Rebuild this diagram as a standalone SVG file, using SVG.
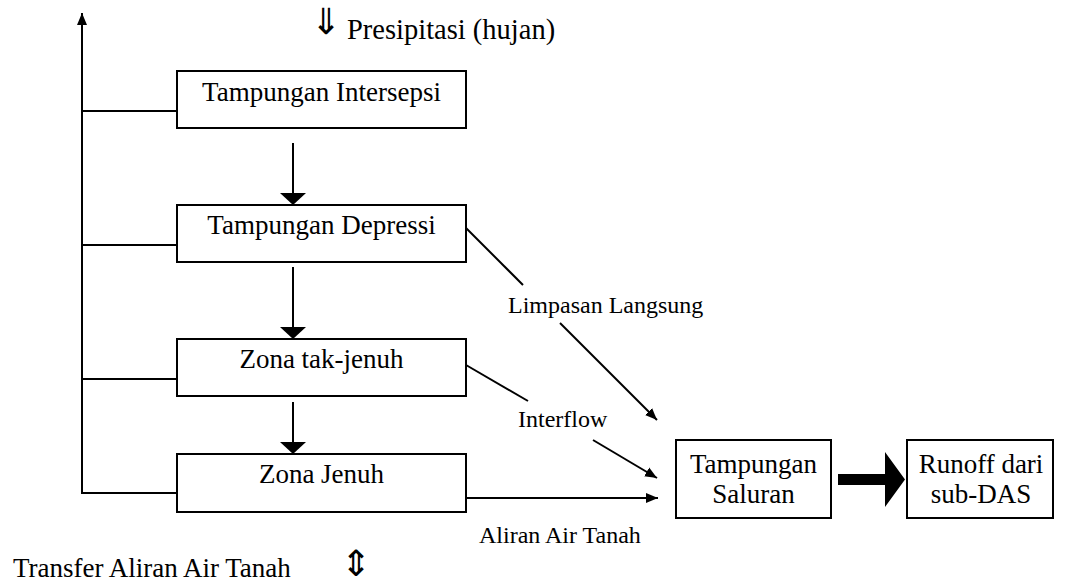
<svg xmlns="http://www.w3.org/2000/svg" width="1070" height="585" viewBox="0 0 1070 585">
<style>
.box{fill:#fff;stroke:#000;stroke-width:2}
.ln{fill:none;stroke:#000;stroke-width:2}
.t{font-family:"Liberation Serif","Times New Roman",serif;font-size:27px;fill:#000}
.lb{font-family:"Liberation Serif","Times New Roman",serif;font-size:24px;fill:#000}
.sym{font-family:"DejaVu Sans","DejaVu Serif",sans-serif;fill:#000}
</style>
<defs>
<marker id="ah" markerWidth="12" markerHeight="12" viewBox="0 0 12 12" refX="12" refY="6" orient="auto" markerUnits="userSpaceOnUse">
<path d="M0,1 L12,6 L0,11 Z" fill="#000"/>
</marker>
<marker id="ahv" markerWidth="12" markerHeight="26" viewBox="0 0 12 26" refX="12" refY="13" orient="auto" markerUnits="userSpaceOnUse">
<path d="M0,0 L12,13 L0,26 Z" fill="#000"/>
</marker>
</defs>
<g id="connectors">
<path class="ln" d="M177,111 H82 M177,245 H82 M177,379 H82 M177,493 H82"/>
<line class="ln" x1="82" y1="494" x2="82" y2="13" marker-end="url(#ah)"/>
<line class="ln" x1="293" y1="143" x2="293" y2="205" marker-end="url(#ahv)"/>
<line class="ln" x1="293" y1="267" x2="293" y2="339" marker-end="url(#ahv)"/>
<line class="ln" x1="293" y1="402" x2="293" y2="454" marker-end="url(#ahv)"/>
<line class="ln" x1="466" y1="228" x2="523" y2="285"/>
<line class="ln" x1="560" y1="323" x2="657" y2="420" marker-end="url(#ah)"/>
<line class="ln" x1="466" y1="365" x2="528" y2="401"/>
<line class="ln" x1="593" y1="440" x2="657" y2="478" marker-end="url(#ah)"/>
<line class="ln" x1="466" y1="498" x2="658" y2="498" marker-end="url(#ah)"/>
<polygon points="838,474 885,474 885,452 905,479.5 885,507 885,485 838,485" fill="#000"/>
</g>
<g id="n-presipitasi">
<text class="sym" x="311" y="34" style="font-size:36px">⇓</text>
<text class="t" x="347" y="39" style="font-size:28.5px">Presipitasi (hujan)</text>
</g>
<g id="n-intersepsi">
<rect class="box" x="177" y="71" width="289" height="57"/>
<text class="t" x="321.5" y="101" text-anchor="middle">Tampungan Intersepsi</text>
</g>
<g id="n-depressi">
<rect class="box" x="177" y="205" width="289" height="57"/>
<text class="t" x="321.5" y="234" text-anchor="middle">Tampungan Depressi</text>
</g>
<g id="n-takjenuh">
<rect class="box" x="177" y="339" width="289" height="57"/>
<text class="t" x="321.5" y="368" text-anchor="middle">Zona tak-jenuh</text>
</g>
<g id="n-jenuh">
<rect class="box" x="177" y="454" width="289" height="58"/>
<text class="t" x="321.5" y="483" text-anchor="middle">Zona Jenuh</text>
</g>
<g id="n-saluran">
<rect class="box" x="676" y="440" width="155" height="78"/>
<text class="t" x="753.5" y="473" text-anchor="middle">Tampungan</text>
<text class="t" x="753.5" y="503" text-anchor="middle">Saluran</text>
</g>
<g id="n-runoff">
<rect class="box" x="907" y="440" width="146" height="78"/>
<text class="t" x="981" y="473" text-anchor="middle">Runoff dari</text>
<text class="t" x="981" y="503" text-anchor="middle">sub-DAS</text>
</g>
<g id="labels">
<text class="lb" x="508" y="313">Limpasan Langsung</text>
<text class="lb" x="518" y="427">Interflow</text>
<text class="lb" x="479" y="543">Aliran Air Tanah</text>
</g>
<g id="n-transfer">
<text class="t" x="13" y="577">Transfer Aliran Air Tanah</text>
<text class="sym" x="341" y="576" style="font-size:36px">⇕</text>
</g>
</svg>
